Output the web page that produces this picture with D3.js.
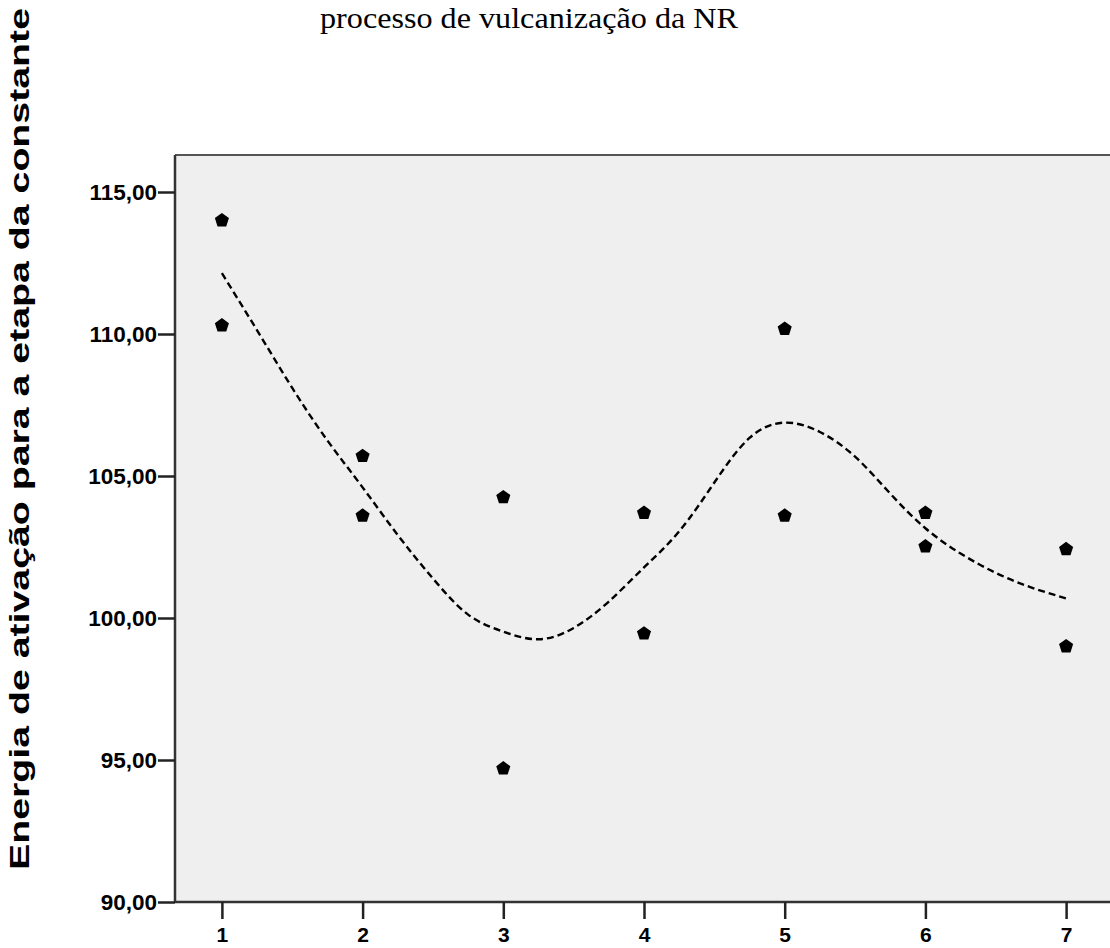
<!DOCTYPE html>
<html>
<head>
<meta charset="utf-8">
<script src="https://cdn.jsdelivr.net/npm/d3@7"></script>
<style>
  html, body { margin: 0; padding: 0; background: #ffffff; overflow: hidden; }
  svg { display: block; }
</style>
</head>
<body>
<svg id="chart" width="1110" height="948"></svg>
<script>
// Observed activation energies: two measurements per group
const groups = [1, 1, 2, 2, 3, 3, 4, 4, 5, 5, 6, 6, 7, 7];
const energies = [114.0, 110.3, 105.7, 103.6, 104.25, 94.7, 103.7, 99.45, 110.18, 103.6, 103.7, 102.52, 102.42, 99.0];

// Smoothed fit line (dashed)
const fitX = [1.0, 1.25, 1.5, 1.75, 2.0, 2.25, 2.5, 2.75, 3.0, 3.25, 3.5, 3.75, 4.0, 4.25, 4.5, 4.75, 5.0, 5.25, 5.5, 5.75, 6.0, 6.25, 6.5, 6.75, 7.0];
const fitY = [112.14, 110.13, 108.1, 106.25, 104.6, 102.92, 101.39, 100.12, 99.52, 99.25, 99.65, 100.58, 101.78, 103.05, 104.77, 106.34, 106.88, 106.55, 105.68, 104.38, 103.16, 102.27, 101.59, 101.08, 100.69];

const xTicks = [1, 2, 3, 4, 5, 6, 7];
const yTicks = [90, 95, 100, 105, 110, 115];

const titleText = "processo de vulcanização da NR";
const yTitleText = "Energia de ativação para a etapa da constante";

const svg = d3.select("#chart");

const plot = { left: 175, top: 155, bottom: 902, right: 1113 };

const x = d3.scaleLinear().domain([0.6667, 7.3333]).range([plot.left, plot.right]);
const y = d3.scaleLinear().domain([90, 116.303]).range([plot.bottom, plot.top]);

// Plot background (runs past the right edge of the canvas)
svg.append("rect")
  .attr("x", plot.left).attr("y", plot.top)
  .attr("width", plot.right + 30 - plot.left).attr("height", plot.bottom - plot.top)
  .attr("fill", "#efefef");

// Top frame line
svg.append("line")
  .attr("x1", plot.left).attr("x2", plot.right + 30)
  .attr("y1", plot.top).attr("y2", plot.top)
  .attr("stroke", "#555555")
  .attr("stroke-width", 2);

// Axes
const fmt = d => d3.format(".2f")(d).replace(".", ",");

const yAxis = svg.append("g")
  .attr("transform", `translate(${plot.left},0)`)
  .call(d3.axisLeft(y).tickValues(yTicks).tickSize(17).tickSizeOuter(0).tickPadding(1).tickFormat(fmt));
yAxis.select(".domain").attr("d", `M0,${plot.top}V${plot.bottom}`);

const xAxis = svg.append("g")
  .attr("transform", `translate(0,${plot.bottom})`)
  .call(d3.axisBottom(x).tickValues(xTicks).tickSize(17).tickSizeOuter(0).tickPadding(8).tickFormat(d3.format("d")));
xAxis.select(".domain").attr("d", `M${plot.left},0H${plot.right + 30}`);

[yAxis, xAxis].forEach(g => {
  g.select(".domain").attr("stroke", "#333333").attr("stroke-width", 2.5);
  g.selectAll(".tick line").attr("stroke", "#222222").attr("stroke-width", 2.5);
  g.selectAll(".tick text")
    .attr("fill", "#000000")
    .attr("font-family", "'Liberation Sans', Arial, sans-serif")
    .attr("font-weight", "bold")
    .attr("font-size", 22.5);
});
xAxis.selectAll(".tick text").attr("font-size", 21);

// Fit line
const line = d3.line()
  .x((d, i) => x(fitX[i]))
  .y(d => y(d))
  .curve(d3.curveNatural);

svg.append("path")
  .datum(fitY)
  .attr("d", line)
  .attr("fill", "none")
  .attr("stroke", "#000000")
  .attr("stroke-width", 2.4)
  .attr("stroke-dasharray", "7,4");

// Pentagon markers
const R = 7.4;
const pentagon = () => {
  const pts = d3.range(5).map(k => {
    const a = -Math.PI / 2 + k * 2 * Math.PI / 5;
    return [R * Math.cos(a), R * Math.sin(a)];
  });
  return "M" + pts.map(p => p.join(",")).join("L") + "Z";
};

svg.append("g")
  .selectAll("path")
  .data(energies)
  .join("path")
  .attr("d", pentagon())
  .attr("transform", (d, i) => `translate(${x(groups[i])},${y(d)})`)
  .attr("fill", "#000000");

// Title (second line of a two-line heading)
svg.append("text")
  .attr("x", 320).attr("y", 28)
  .attr("font-family", "'Liberation Serif', 'Times New Roman', serif")
  .attr("font-size", 30)
  .attr("textLength", 418)
  .attr("lengthAdjust", "spacingAndGlyphs")
  .attr("fill", "#000000")
  .text(titleText);

// Y axis title
svg.append("text")
  .attr("transform", "translate(29,439) rotate(-90)")
  .attr("text-anchor", "middle")
  .attr("font-family", "'Liberation Sans', Arial, sans-serif")
  .attr("font-weight", "bold")
  .attr("font-size", 27)
  .attr("textLength", 862)
  .attr("lengthAdjust", "spacingAndGlyphs")
  .attr("fill", "#000000")
  .text(yTitleText);
</script>
</body>
</html>
